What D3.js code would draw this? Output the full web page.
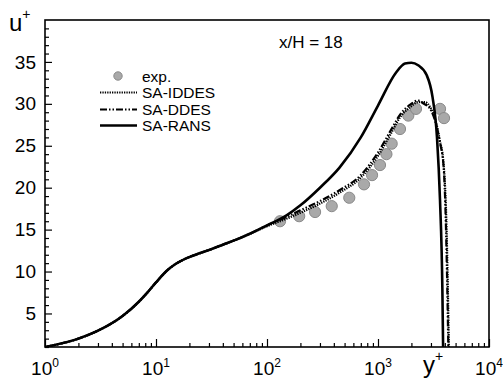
<!DOCTYPE html>
<html><head><meta charset="utf-8">
<script src="https://cdn.jsdelivr.net/npm/d3@7"></script>
<style>
html,body{margin:0;padding:0;background:#fff;}
svg{display:block;font-family:Arial,"Liberation Sans",Helvetica,sans-serif;}
</style></head>
<body>
<svg id="chart" width="503" height="381"></svg>
<script>
// ---- data ----
const xTickExponents = [0, 1, 2, 3, 4];
const yTickValues = [5, 10, 15, 20, 25, 30, 35];

const ransYp = [1, 2, 3, 5, 7, 8.24, 10, 12.5, 15, 18.9, 25, 32, 40, 55, 70, 100, 150, 200, 300, 450, 700, 1000, 1450, 1750, 2000, 2300, 2750, 3100, 3400, 3620, 3800, 3860];
const ransUp = [1.0, 2.0, 2.95, 4.7, 6.4, 7.4, 8.7, 10.1, 10.9, 11.6, 12.2, 12.7, 13.2, 13.9, 14.5, 15.5, 16.7, 17.9, 20.0, 22.4, 26.0, 29.8, 33.7, 34.8, 34.9, 34.6, 33.4, 30.8, 26.0, 18.5, 8.0, 1.0];

const ddesYp = [1, 2, 3, 5, 7, 8.24, 10, 12.5, 15, 18.9, 25, 32, 40, 55, 70, 100, 150, 200, 300, 450, 700, 1000, 1300, 1600, 1950, 2300, 2600, 2950, 3300, 3600, 3900, 4100, 4250, 4300];
const ddesUp = [1.0, 2.0, 2.95, 4.7, 6.4, 7.4, 8.7, 10.1, 10.9, 11.6, 12.2, 12.7, 13.2, 13.9, 14.5, 15.5, 16.5, 17.3, 18.4, 19.7, 21.5, 24.2, 26.8, 28.8, 29.9, 30.4, 30.0, 29.4, 27.8, 25.5, 22.5, 15.0, 5.0, 1.0];

const iddesYp = [1, 2, 3, 5, 7, 8.24, 10, 12.5, 15, 18.9, 25, 32, 40, 55, 70, 100, 150, 200, 300, 450, 700, 1000, 1300, 1600, 1950, 2300, 2650, 2950, 3300, 3600, 3900, 4150, 4300, 4350];
const iddesUp = [1.0, 2.0, 2.95, 4.7, 6.4, 7.4, 8.7, 10.1, 10.9, 11.6, 12.2, 12.7, 13.2, 13.9, 14.5, 15.4, 16.3, 17.0, 18.1, 19.4, 21.2, 23.8, 26.4, 28.5, 29.6, 30.2, 30.2, 29.6, 28.0, 25.7, 22.8, 15.0, 5.0, 1.0];

const expYp = [131, 195, 271, 383, 551, 748, 884, 1042, 1191, 1328, 1578, 1875, 2199, 3620, 3933];
const expUp = [16.0, 16.6, 17.1, 17.8, 18.8, 20.4, 21.5, 22.7, 24.0, 25.25, 27.0, 28.6, 29.4, 29.4, 28.3];

const legendLabels = ["exp.", "SA-IDDES", "SA-DDES", "SA-RANS"];
const titleText = "x/H = 18";

// ---- layout ----
const svg = d3.select("#chart");
const L = 45, R = 489, T = 20, B = 347;
const x = d3.scaleLog().domain([1, 10000]).range([L, R]);
const y = d3.scaleLinear().domain([1, 40]).range([B, T]);

const zip = (a, b) => a.map((v, i) => [v, b[i]]);
const line = d3.line().x(d => x(d[0])).y(d => y(d[1])).curve(d3.curveMonotoneX);

svg.append("defs").append("clipPath").attr("id", "clip")
  .append("rect").attr("x", L).attr("y", T).attr("width", R - L).attr("height", B - T);

const plot = svg.append("g").attr("clip-path", "url(#clip)");

// experimental points
plot.selectAll("circle.exp").data(zip(expYp, expUp)).enter().append("circle")
  .attr("class", "exp")
  .attr("cx", d => x(d[0])).attr("cy", d => y(d[1])).attr("r", 5.6)
  .attr("fill", "#a9a9a9").attr("stroke", "#8a8a8a").attr("stroke-width", 1);

// lines
plot.append("path").datum(zip(iddesYp, iddesUp)).attr("d", line)
  .attr("fill", "none").attr("stroke", "#000").attr("stroke-width", 2.2)
  .attr("stroke-dasharray", "1.3,1.1");
plot.append("path").datum(zip(ddesYp, ddesUp)).attr("d", line)
  .attr("fill", "none").attr("stroke", "#000").attr("stroke-width", 2.2)
  .attr("stroke-dasharray", "7,2,1.5,2,1.5,2");
plot.append("path").datum(zip(ransYp, ransUp)).attr("d", line)
  .attr("fill", "none").attr("stroke", "#000").attr("stroke-width", 2.6);

// axes: minor ticks
const xMinor = [];
for (let e = 0; e < 4; e++) for (let m = 2; m <= 9; m++) xMinor.push(m * Math.pow(10, e));
const yMinor = d3.range(1, 41).filter(v => v % 5 !== 0);

const axX = svg.append("g").attr("transform", `translate(0,${B})`);
axX.call(d3.axisBottom(x).tickValues(xMinor).tickSize(-4).tickFormat(""));
axX.append("g").call(d3.axisBottom(x).tickValues(xTickExponents.map(e => Math.pow(10, e))).tickSize(-8).tickFormat(""));

const axY = svg.append("g").attr("transform", `translate(${L},0)`);
axY.call(d3.axisLeft(y).tickValues(yMinor).tickSize(-4).tickFormat(""));
axY.append("g").call(d3.axisLeft(y).tickValues(yTickValues).tickSize(-7).tickPadding(9))
  .selectAll("text").attr("font-size", 19).attr("font-family", "Arial, 'Liberation Sans', sans-serif").attr("fill", "#000");

svg.selectAll(".domain").remove();
svg.selectAll(".tick line").attr("stroke", "#000").attr("stroke-width", 1.2);

// frame
svg.append("rect").attr("x", L).attr("y", T).attr("width", R - L).attr("height", B - T)
  .attr("fill", "none").attr("stroke", "#000").attr("stroke-width", 1.6);

// x tick labels with superscripts
const xl = svg.append("g").selectAll("text").data(xTickExponents).enter().append("text")
  .attr("x", d => x(Math.pow(10, d))).attr("y", 375)
  .attr("text-anchor", "middle").attr("font-size", 19).attr("fill", "#000");
xl.append("tspan").text("10");
xl.append("tspan").attr("font-size", 12).attr("dy", -8).text(d => d);

// axis titles
const ut = svg.append("text").attr("x", 9).attr("y", 31).attr("font-size", 24).attr("fill", "#000");
ut.append("tspan").text("u");
ut.append("tspan").attr("font-size", 14).attr("dy", -12).text("+");

const yt = svg.append("text").attr("x", 423).attr("y", 373).attr("font-size", 24).attr("fill", "#000");
yt.append("tspan").text("y");
yt.append("tspan").attr("font-size", 14).attr("dy", -12).text("+");

// title
svg.append("text").attr("x", 279).attr("y", 48).attr("font-size", 17).attr("fill", "#000").text(titleText);

// legend
const lg = svg.append("g");
const ly = [76, 92.5, 109.5, 125.5];
lg.append("circle").attr("cx", 118).attr("cy", ly[0]).attr("r", 4.2)
  .attr("fill", "#a9a9a9").attr("stroke", "#8a8a8a");
const dashes = ["1.3,1.1", "7,2,1.5,2,1.5,2", null];
const widths = [2.2, 2.2, 2.6];
for (let i = 1; i < 4; i++) {
  const ln = lg.append("line").attr("x1", 100).attr("x2", 137).attr("y1", ly[i]).attr("y2", ly[i])
    .attr("stroke", "#000").attr("stroke-width", widths[i - 1]);
  if (dashes[i - 1]) ln.attr("stroke-dasharray", dashes[i - 1]);
}
lg.selectAll("text").data(legendLabels).enter().append("text")
  .attr("x", 142).attr("y", (d, i) => ly[i] + 5.5)
  .attr("font-size", 15.5).attr("fill", "#000").text(d => d);
</script>
</body></html>
